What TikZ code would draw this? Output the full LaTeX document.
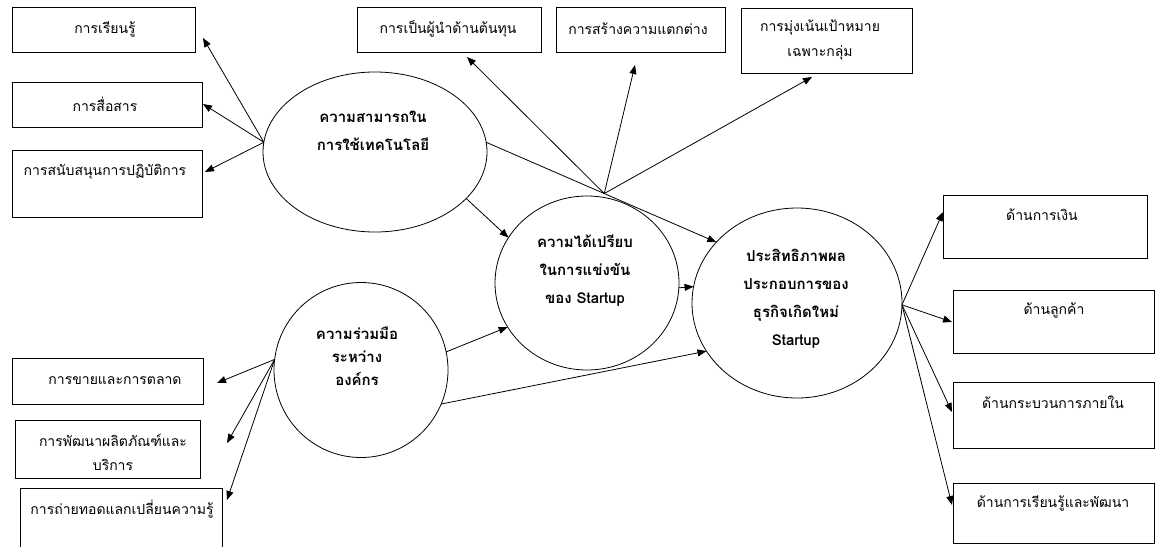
\documentclass[tikz,border=0pt]{standalone}
\usepackage{fontspec}
\newfontfamily\thai[Script=Thai]{Loma}
\usetikzlibrary{shapes.geometric,arrows.meta,calc}
\begin{document}
\begin{tikzpicture}[x=1pt,y=-1pt,
  boxnode/.style={draw,line width=0.8pt,inner sep=0pt,outer sep=0pt,anchor=north west},
  boxtxt/.style={font=\thai\fontsize{14}{24}\selectfont,align=center,inner sep=0pt},
  ell/.style={draw,ellipse,line width=0.8pt,inner sep=0pt,outer sep=0pt},
  elltxt/.style={font=\thai\bfseries\fontsize{15}{28}\selectfont,align=center,inner sep=0pt},
  arr/.style={line width=0.8pt,-{Triangle[length=9pt,width=7pt]}},
  ln/.style={line width=0.8pt}]
\useasboundingbox (0,0) rectangle (1155,546);
\clip (0,0) rectangle (1155,546);
% left top boxes
\node[boxnode,minimum width=183,minimum height=45] (b1) at (12,7) {};
\node[boxtxt] (b1t) at (105,29) {การเรียนรู้};
\node[boxnode,minimum width=190,minimum height=45] (b2) at (12,82) {};
\node[boxtxt] (b2t) at (105,104) {การสื่อสาร};
\node[boxnode,minimum width=190,minimum height=67] (b3) at (12,150) {};
\node[boxtxt] (b3t) at (105,172) {การสนับสนุนการปฏิบัติการ};
% top boxes
\node[boxnode,minimum width=184,minimum height=45] (b4) at (357,7) {};
\node[boxtxt] (b4t) at (448,29) {การเป็นผู้นำด้านต้นทุน};
\node[boxnode,minimum width=169,minimum height=45] (b5) at (556,7) {};
\node[boxtxt] (b5t) at (638,29) {การสร้างความแตกต่าง};
\node[boxnode,minimum width=171,minimum height=65] (b6) at (741,8) {};
\node[boxtxt,font=\thai\fontsize{14}{25}\selectfont] (b6t) at (820,40) {การมุ่งเน้นเป้าหมาย\\เฉพาะกลุ่ม};
% left bottom boxes
\node[boxnode,minimum width=191,minimum height=46] (b7) at (12,358) {};
\node[boxtxt] (b7t) at (115,381) {การขายและการตลาด};
\node[boxnode,minimum width=185,minimum height=58] (b8) at (15,420) {};
\node[boxtxt] (b8t) at (113,452) {การพัฒนาผลิตภัณฑ์และ\\บริการ};
\node[boxnode,minimum width=202,minimum height=80] (b9) at (20,488) {};
\node[boxtxt] (b9t) at (122,509) {การถ่ายทอดแลกเปลี่ยนความรู้};
% right boxes
\node[boxnode,minimum width=204,minimum height=63] (r1) at (943,195) {};
\node[boxtxt] (r1t) at (1042,215) {ด้านการเงิน};
\node[boxnode,minimum width=201,minimum height=63] (r2) at (953,290) {};
\node[boxtxt] (r2t) at (1054,310) {ด้านลูกค้า};
\node[boxnode,minimum width=201,minimum height=66] (r3) at (953,382) {};
\node[boxtxt] (r3t) at (1053,402) {ด้านกระบวนการภายใน};
\node[boxnode,minimum width=201,minimum height=60] (r4) at (953,483) {};
\node[boxtxt] (r4t) at (1053,503) {ด้านการเรียนรู้และพัฒนา};
% ellipses
\node[ell,minimum width=224,minimum height=160] (e1) at (375,152) {};
\node[elltxt] (e1t) at (373,131) {ความสามารถใน\\การใช้เทคโนโลยี};
\node[ell,minimum width=184,minimum height=174] (e2) at (587,283) {};
\node[elltxt] (e2t) at (585,271) {ความได้เปรียบ\\ในการแข่งขัน\\ของ Startup};
\node[ell,minimum width=210,minimum height=190] (e3) at (797,303) {};
\node[elltxt] (e3t) at (796,299) {ประสิทธิภาพผล\\ประกอบการของ\\ธุรกิจเกิดใหม่\\Startup};
\node[ell,minimum width=174,minimum height=175] (e4) at (361,370) {};
\node[elltxt,font=\thai\bfseries\fontsize{15}{23}\selectfont] (e4t) at (357,356) {ความร่วมมือ\\ระหว่าง\\องค์กร};
% arrow tips (free ends)
\coordinate (t1) at (203,38);
\coordinate (t2) at (203,104);
\coordinate (t3) at (205,172);
\coordinate (t4) at (467,57);
\coordinate (t5) at (635,65);
\coordinate (t6) at (812,77);
\coordinate (t7) at (217,383);
\coordinate (t8) at (227,443);
\coordinate (t9) at (227,500);
\coordinate (s1) at (943,212);
\coordinate (s2) at (952,322);
\coordinate (s3) at (952,412);
\coordinate (s4) at (952,505);
\coordinate (hub) at ($(e1.5)!0.513!(e3.143)$);
% connectors
\draw[arr] (e1.175) -- (t1);
\draw[arr] (e1.175) -- (t2);
\draw[arr] (e1.175) -- (t3);
\draw[arr] (e1.-27) -- (e2.150);
\draw[arr] (e1.5) -- (e3.143);
\draw[arr] (hub) -- (t4);
\draw[arr] (hub) -- (t5);
\draw[arr] (hub) -- (t6);
\draw[arr] (e2.-3) -- (e3.171);
\draw[arr] (e4.12) -- (e2.209);
\draw[arr] (e4.-23) -- (e3.208);
\draw[arr] (e4.173) -- (t7);
\draw[arr] (e4.173) -- (t8);
\draw[arr] (e4.173) -- (t9);
\draw[arr] (e3.-1) -- (s1);
\draw[arr] (e3.-1) -- (s2);
\draw[arr] (e3.-1) -- (s3);
\draw[arr] (e3.-1) -- (s4);
\end{tikzpicture}
\end{document}
